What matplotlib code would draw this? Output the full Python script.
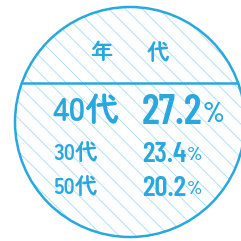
import matplotlib.pyplot as plt
from matplotlib.patches import Circle

plt.rcParams['hatch.linewidth'] = 0.6

# data
header = ['年', '代']
ages = ['40代', '30代', '50代']
shares = [27.2, 23.4, 20.2]

blue = '#29a8e0'
light = '#a9dcf3'
jp = ['Zen Maru Gothic', 'Noto Sans CJK JP', 'DejaVu Sans']
num_font = ['Barlow Condensed', 'DejaVu Sans']

fig = plt.figure(figsize=(2.41, 2.41), dpi=100)
ax = fig.add_axes([0, 0, 1, 1])
ax.set_xlim(0, 241)
ax.set_ylim(241, 0)
ax.set_aspect('equal')
ax.axis('off')

cx, cy, r = 130, 122, 115
ax.add_patch(Circle((cx, cy), r, facecolor='white', edgecolor=light,
                    hatch='\\\\', lw=0))
ax.add_patch(Circle((cx, cy), r, facecolor='none', edgecolor=blue, lw=1.8))

# divider
sep_y = 83
half = (r ** 2 - (sep_y - cy) ** 2) ** 0.5
ax.plot([cx - half, cx + half], [sep_y, sep_y], color=blue, lw=1.8,
        solid_capstyle='butt')

# header
for ch, x in zip(header, [101, 158]):
    ax.text(x, 53, ch, family=jp, fontsize=16, fontweight='bold',
            color=blue, ha='center', va='center')

row_y = [112, 154, 188]
big = [24, 16, 16]
numsize = [30, 21, 21]
for lab, val, y, fs, ns in zip(ages, shares, row_y, big, numsize):
    ax.text(53, y, lab, family=jp, fontsize=fs, fontweight='bold',
            color=blue, ha='left', va='center')
    t = ax.text(142, y + 1, f'{val:.1f}', family=num_font, fontsize=ns,
                fontweight='semibold', color=blue, ha='left', va='center')
    ax.annotate('%', xy=(1, 0.12), xycoords=t, xytext=(0.3, 0),
                textcoords='offset points', family=num_font,
                fontsize=ns * 0.68, fontweight='semibold', color=blue,
                ha='left', va='bottom')

fig.savefig('out.png', dpi=100)
